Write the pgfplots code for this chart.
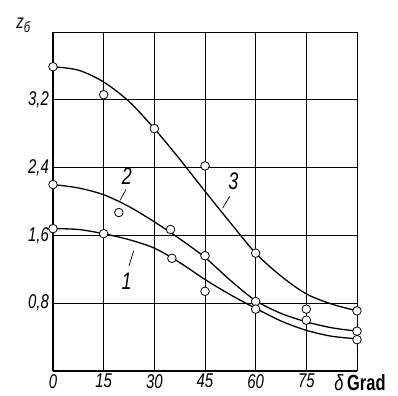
\documentclass[border=0pt]{standalone}
\usepackage{pgfplots}
\pgfplotsset{compat=1.18}
\usepackage{fontspec}
\setmainfont{Liberation Sans}
\newfontfamily\hand[FakeStretch=0.75]{Liberation Sans}
\begin{document}
\begin{tikzpicture}
\useasboundingbox (-53bp,-25bp) rectangle (345bp,371bp);
\begin{axis}[
  at={(0,0)}, anchor=south west,
  scale only axis, width=304bp, height=339bp,
  xmin=0, xmax=90, ymin=0, ymax=4.0,
  xtick={0,15,30,45,60,75,90},
  xticklabels={0,15,30,45,60,75,{\hspace*{6pt}\fontsize{22}{22}\selectfont δ\,\upshape\bfseries Grad}},
  ytick={0.8,1.6,2.4,3.2,4.0},
  yticklabels={{0,8},{1,6},{2,4},{3,2},{}},
  tick style={draw=none},
  grid=major, grid style={black, line width=0.6pt},
  axis line style={black, line width=1.1pt},
  axis x line*=bottom, axis y line*=left,
  /pgf/number format/assume math mode=true,
  ticklabel style={font=\hand\fontsize{20}{20}\selectfont\itshape, inner sep=1pt},
  xticklabel style={yshift=-2pt},
  yticklabel style={xshift=-3pt},
  clip=false,
]
% smooth curves
\addplot[black, line width=1.3pt, smooth, tension=0.5] coordinates {
 (0,3.59) (7.5,3.55) (15,3.41) (22.5,3.18) (30,2.86) (37.5,2.50) (45,2.12)
 (52.5,1.75) (60,1.39) (67.5,1.12) (75,0.91) (82.5,0.79) (90,0.71)};
\addplot[black, line width=1.3pt, smooth, tension=0.5] coordinates {
 (0,2.20) (7.5,2.16) (15,2.08) (22.5,1.94) (30,1.76) (37.5,1.56) (45,1.34)
 (52.5,1.07) (60,0.83) (67.5,0.68) (75,0.58) (82.5,0.51) (90,0.47)};
\addplot[black, line width=1.3pt, smooth, tension=0.5] coordinates {
 (0,1.68) (7.5,1.67) (15,1.62) (22.5,1.55) (30,1.45) (37.5,1.28) (45,1.08)
 (52.5,0.90) (60,0.74) (67.5,0.59) (75,0.48) (82.5,0.41) (90,0.38)};
% measured points
\addplot[only marks, mark=*, mark size=4.3pt, mark options={fill=white, draw=black, line width=0.8pt}] coordinates {
 (0,3.59) (15,3.26) (30,2.86) (45,2.42) (60,1.39) (75,0.73) (90,0.71)};
\addplot[only marks, mark=*, mark size=4.3pt, mark options={fill=white, draw=black, line width=0.8pt}] coordinates {
 (0,2.20) (19.5,1.87) (34.8,1.67) (45,1.36) (60,0.82) (75,0.60) (90,0.47)};
\addplot[only marks, mark=*, mark size=4.3pt, mark options={fill=white, draw=black, line width=0.8pt}] coordinates {
 (0,1.68) (15,1.62) (35.2,1.33) (45,0.94) (60,0.73) (90,0.37)};
% curve labels with leaders
\draw[line width=0.7pt] (axis cs:19.8,2.01) -- (axis cs:21.6,2.14);
\node[font=\hand\fontsize{24}{24}\selectfont\itshape] at (axis cs:21.9,2.30) {2};
\draw[line width=0.7pt] (axis cs:23.9,1.42) -- (axis cs:22.5,1.24);
\node[font=\hand\fontsize{24}{24}\selectfont\itshape] at (axis cs:21.8,1.06) {1};
\draw[line width=0.7pt] (axis cs:50.2,1.92) -- (axis cs:52.3,2.06);
\node[font=\hand\fontsize{24}{24}\selectfont\itshape] at (axis cs:53.4,2.24) {3};
\node[font=\hand\fontsize{20}{20}\selectfont\itshape, anchor=center] at (axis cs:-8.8,4.08) {z\raisebox{-0.45ex}{\fontsize{15}{15}\selectfont б}};
\end{axis}
\end{tikzpicture}
\end{document}
